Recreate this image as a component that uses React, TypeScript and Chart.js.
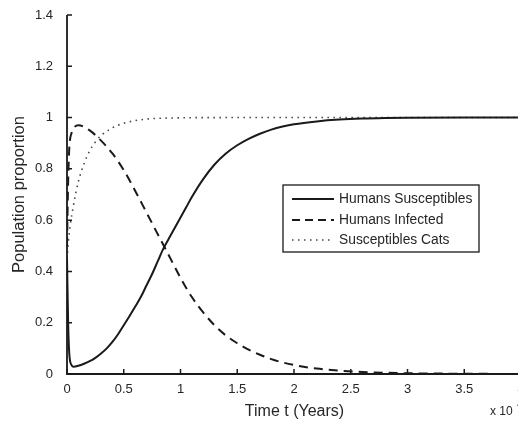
import React, { useEffect, useRef } from "react";
import { Chart, registerables } from "chart.js";

Chart.register(...registerables);

// ---- Data ----
const seriesLabels = ["Humans Susceptibles", "Humans Infected", "Susceptibles Cats"];

const tSusceptibles = [0, 0.01, 0.02, 0.04, 0.06, 0.1, 0.15, 0.2, 0.25, 0.3, 0.35, 0.4, 0.45, 0.5, 0.55, 0.6, 0.65, 0.7, 0.75, 0.8, 0.85, 0.9, 0.95, 1.0, 1.05, 1.1, 1.2, 1.3, 1.4, 1.5, 1.6, 1.7, 1.8, 1.9, 2.0, 2.2, 2.4, 2.6, 2.8, 3.0, 3.5, 4.0];
const vSusceptibles = [0.45, 0.2, 0.08, 0.035, 0.028, 0.032, 0.04, 0.05, 0.063, 0.08, 0.1, 0.125, 0.155, 0.19, 0.225, 0.262, 0.3, 0.345, 0.39, 0.44, 0.49, 0.53, 0.57, 0.61, 0.65, 0.69, 0.76, 0.817, 0.86, 0.892, 0.917, 0.937, 0.953, 0.965, 0.974, 0.985, 0.992, 0.996, 0.998, 0.999, 1.0, 1.0];

const tInfected = [0, 0.01, 0.02, 0.04, 0.07, 0.1, 0.2, 0.3, 0.4, 0.5, 0.6, 0.7, 0.8, 0.9, 1.0, 1.1, 1.2, 1.3, 1.4, 1.5, 1.6, 1.7, 1.8, 1.9, 2.0, 2.2, 2.4, 2.6, 2.8, 3.0, 3.5, 4.0];
const vInfected = [0.5, 0.75, 0.88, 0.94, 0.965, 0.97, 0.95, 0.91, 0.86, 0.795, 0.715, 0.63, 0.545, 0.46, 0.375, 0.3, 0.24, 0.19, 0.15, 0.12, 0.095, 0.075, 0.058, 0.045, 0.035, 0.021, 0.013, 0.008, 0.005, 0.003, 0.001, 0.0];

const tCats = [0, 0.02, 0.05, 0.1, 0.15, 0.2, 0.25, 0.3, 0.4, 0.5, 0.6, 0.7, 0.8, 1.0, 1.5, 2.0, 3.0, 4.0];
const vCats = [0.45, 0.55, 0.64, 0.75, 0.82, 0.87, 0.905, 0.93, 0.96, 0.978, 0.988, 0.994, 0.997, 0.999, 1.0, 1.0, 1.0, 1.0];

const xTicks = [0, 0.5, 1, 1.5, 2, 2.5, 3, 3.5, 4];
const yTicks = [0, 0.2, 0.4, 0.6, 0.8, 1, 1.2, 1.4];

const xTitle = "Time t (Years)";
const yTitle = "Population proportion";
const xMultiplier = "x 10";
const xMultiplierExp = "4";

const FONT = "'Liberation Sans', Arial, Helvetica, sans-serif";
const INK = "#1a1a1a";
const TEXT = "#262626";

const toPoints = (ts: number[], vs: number[]) => ts.map((t, i) => ({ x: t, y: vs[i] }));

const decorPlugin = {
  id: "decor",
  afterDatasetsDraw(chart: any) {
    const { ctx, chartArea, scales } = chart;
    const xs = scales.x;
    const ys = scales.y;
    ctx.save();
    // axes
    ctx.strokeStyle = INK;
    ctx.lineWidth = 1.8;
    ctx.beginPath();
    ctx.moveTo(chartArea.left, chartArea.top);
    ctx.lineTo(chartArea.left, chartArea.bottom);
    ctx.lineTo(chart.width, chartArea.bottom);
    ctx.stroke();
    // inward ticks
    ctx.lineWidth = 1.5;
    ctx.beginPath();
    for (const v of yTicks) {
      const py = ys.getPixelForValue(v);
      ctx.moveTo(chartArea.left, py);
      ctx.lineTo(chartArea.left + 5, py);
    }
    for (const v of xTicks) {
      const px = xs.getPixelForValue(v);
      ctx.moveTo(px, chartArea.bottom);
      ctx.lineTo(px, chartArea.bottom - 5);
    }
    ctx.stroke();

    // titles
    ctx.fillStyle = TEXT;
    ctx.textAlign = "center";
    ctx.textBaseline = "middle";
    ctx.font = `16px ${FONT}`;
    ctx.fillText(xTitle, (chartArea.left + chartArea.right) / 2 + 0.5, 412);
    ctx.save();
    ctx.translate(19, (chartArea.top + chartArea.bottom) / 2);
    ctx.rotate(-Math.PI / 2);
    ctx.font = `16.5px ${FONT}`;
    ctx.fillText(yTitle, 0, 0);
    ctx.restore();
    ctx.textAlign = "left";
    ctx.font = `12px ${FONT}`;
    ctx.fillText(xMultiplier, 490, 412);
    ctx.font = `9px ${FONT}`;
    ctx.fillText(xMultiplierExp, 517, 405);

    // legend
    const bx = 283, by = 185, bw = 196, bh = 67;
    ctx.fillStyle = "#ffffff";
    ctx.fillRect(bx, by, bw, bh);
    ctx.strokeStyle = INK;
    ctx.lineWidth = 1.3;
    ctx.strokeRect(bx, by, bw, bh);
    const rows = [199, 220, 240];
    chart.data.datasets.forEach((ds: any, i: number) => {
      const y = rows[i];
      ctx.save();
      ctx.strokeStyle = ds.borderColor;
      ctx.lineWidth = ds.borderWidth;
      ctx.setLineDash(ds.legendDash || ds.borderDash || []);
      ctx.beginPath();
      ctx.moveTo(292, y);
      ctx.lineTo(334, y);
      ctx.stroke();
      ctx.restore();
      ctx.fillStyle = TEXT;
      ctx.font = `13.8px ${FONT}`;
      ctx.textBaseline = "middle";
      ctx.fillText(ds.label, 339, y + 0.5);
    });
    ctx.restore();
  },
};

export default function App() {
  const ref = useRef<HTMLCanvasElement | null>(null);

  useEffect(() => {
    if (!ref.current) return;
    const chart = new Chart(ref.current, {
      type: "line",
      data: {
        datasets: [
          {
            label: seriesLabels[0],
            data: toPoints(tSusceptibles, vSusceptibles),
            borderColor: INK,
            borderWidth: 2,
            borderDash: [],
            pointRadius: 0,
            cubicInterpolationMode: "monotone",
          },
          {
            label: seriesLabels[1],
            data: toPoints(tInfected, vInfected),
            borderColor: INK,
            borderWidth: 2,
            borderDash: [9, 6],
            legendDash: [8, 5],
            pointRadius: 0,
            cubicInterpolationMode: "monotone",
          } as any,
          {
            label: seriesLabels[2],
            data: toPoints(tCats, vCats),
            borderColor: "#444444",
            borderWidth: 1.6,
            borderDash: [1.5, 4.5],
            pointRadius: 0,
            cubicInterpolationMode: "monotone",
          },
        ],
      },
      options: {
        animation: false,
        responsive: false,
        devicePixelRatio: 1,
        layout: { padding: { top: 15, right: 9, left: 0, bottom: 0 } },
        plugins: { legend: { display: false }, tooltip: { enabled: false } },
        scales: {
          x: {
            type: "linear",
            min: 0,
            max: 4,
            afterFit: (s: any) => {
              s.height = 48;
              s.paddingLeft = 0;
              s.paddingRight = 0;
            },
            afterBuildTicks: (s: any) => {
              s.ticks = xTicks.map((v) => ({ value: v }));
            },
            grid: { display: false, drawTicks: false },
            border: { display: false },
            ticks: {
              padding: 8,
              color: TEXT,
              font: { family: FONT, size: 13 },
              maxRotation: 0,
              autoSkip: false,
              callback: (v: any) => String(Number(Number(v).toFixed(1))),
            },
          },
          y: {
            type: "linear",
            min: 0,
            max: 1.4,
            afterFit: (s: any) => {
              s.width = 67;
              s.paddingTop = 0;
              s.paddingBottom = 0;
            },
            afterBuildTicks: (s: any) => {
              s.ticks = yTicks.map((v) => ({ value: v }));
            },
            grid: { display: false, drawTicks: false },
            border: { display: false },
            ticks: {
              padding: 14,
              color: TEXT,
              font: { family: FONT, size: 13 },
              autoSkip: false,
              callback: (v: any) => String(Number(Number(v).toFixed(1))),
            },
          },
        },
      } as any,
      plugins: [decorPlugin],
    });
    return () => chart.destroy();
  }, []);

  return (
    <div
      style={{
        position: "fixed",
        left: 0,
        top: 0,
        width: 518,
        height: 422,
        overflow: "hidden",
        background: "#ffffff",
      }}
    >
      <canvas ref={ref} width={530} height={422} style={{ display: "block", width: 530, height: 422 }} />
    </div>
  );
}
